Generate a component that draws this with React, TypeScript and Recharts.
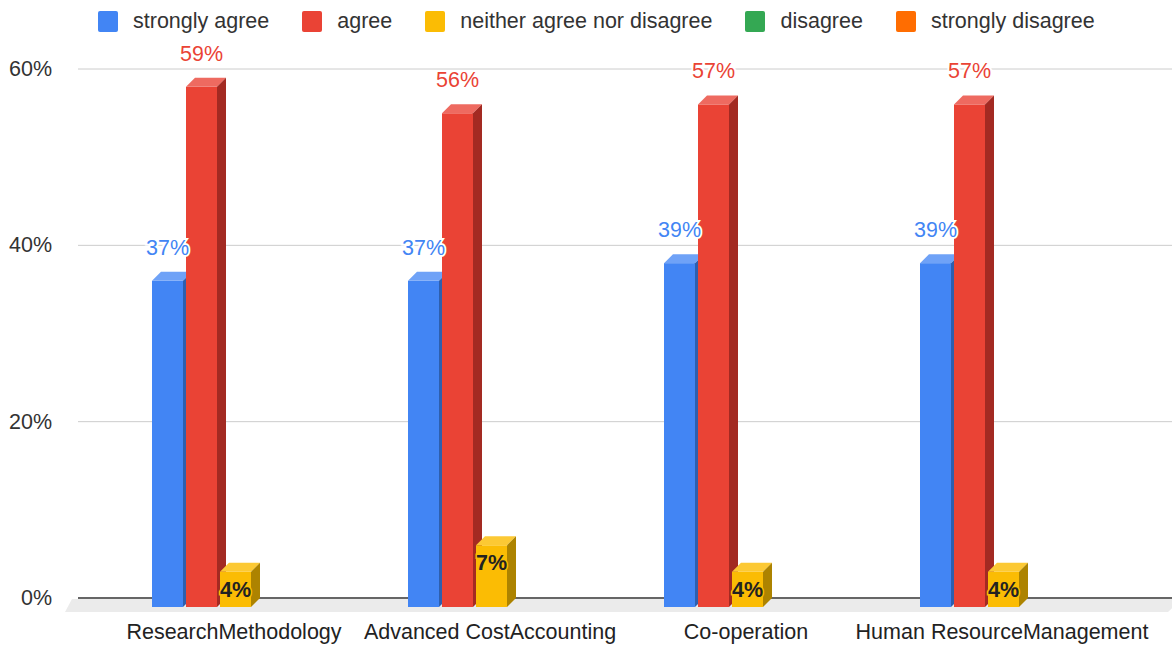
import React from 'react';
import { BarChart, Bar, XAxis, YAxis, CartesianGrid, LabelList } from 'recharts';

const categories = ['ResearchMethodology', 'Advanced CostAccounting', 'Co-operation', 'Human ResourceManagement'];
const stronglyAgree = [37, 37, 39, 39];
const agree = [59, 56, 57, 57];
const neitherAgree = [4, 7, 4, 4];
const disagree = [0, 0, 0, 0];
const stronglyDisagree = [0, 0, 0, 0];
const yTicks = [0, 20, 40, 60];

const series = [
    { key: 'sa', name: 'strongly agree', values: stronglyAgree },
    { key: 'a', name: 'agree', values: agree },
    { key: 'n', name: 'neither agree nor disagree', values: neitherAgree },
    { key: 'd', name: 'disagree', values: disagree },
    { key: 'sd', name: 'strongly disagree', values: stronglyDisagree },
];

// front / top / side shades per series
const colors: Record<string, { front: string; top: string; side: string }> = {
    sa: { front: '#4285f4', top: '#6fa2f7', side: '#2e5fae' },
    a: { front: '#ea4335', top: '#ee6a60', side: '#a32a22' },
    n: { front: '#fbbc04', top: '#fcc934', side: '#ad8300' },
    d: { front: '#34a853', top: '#5cba77', side: '#24763a' },
    sd: { front: '#ff6d01', top: '#ff8a34', side: '#b34c00' },
};

const data = categories.map((name, i) => {
    const row: any = { name };
    series.forEach(s => { row[s.key] = s.values[i]; });
    return row;
});

const DEPTH = 9;
const FONT = 'Arial, "Liberation Sans", sans-serif';
const FS = 21.5;

function Box3D(props: any) {
    const { x, y, width, height, seriesKey } = props;
    if (!height || height <= 0) return <g />;
    const c = colors[seriesKey];
    const fx = x - DEPTH;
    const fy = y + DEPTH;
    return (
        <g>
            <rect x={fx} y={fy} width={width} height={height} fill={c.front} />
            <polygon
                points={`${fx},${fy} ${fx + width},${fy} ${x + width},${y} ${x},${y}`}
                fill={c.top}
            />
            <polygon
                points={`${fx + width},${fy} ${x + width},${y} ${x + width},${y + height} ${fx + width},${fy + height}`}
                fill={c.side}
            />
        </g>
    );
}

function TopLabel(props: any) {
    const { x, y, width, height, value, color } = props;
    if (!value || height <= 0) return null;
    return (
        <text
            x={x - DEPTH + width / 2}
            y={y + DEPTH - 33}
            textAnchor="middle"
            dominantBaseline="central"
            fontSize={FS}
            fontFamily={FONT}
            fill={color}
            stroke="#fff"
            strokeWidth={4}
            paintOrder="stroke"
        >
            {value}%
        </text>
    );
}

function InsideLabel(props: any) {
    const { x, y, width, height, value } = props;
    if (!value || height <= 0) return null;
    return (
        <text
            x={x - DEPTH + width / 2}
            y={y + DEPTH + 18}
            textAnchor="middle"
            dominantBaseline="central"
            fontSize={FS}
            fontWeight="bold"
            fontFamily={FONT}
            fill="#222"
            stroke="#fbbc04"
            strokeWidth={3}
            paintOrder="stroke"
        >
            {value}%
        </text>
    );
}

function GridLine(props: any) {
    const { x1, x2, y1, y, height } = props;
    const isBase = Math.abs(y1 - (y + height)) < 1;
    if (!isBase) {
        return <line x1={x1} x2={x2} y1={y1} y2={y1} stroke="#cccccc" strokeWidth={1} />;
    }
    return (
        <g>
            <polygon
                points={`${x1 - 6},${y1 + 1} ${x2 + 10},${y1 + 1} ${x2 - 4},${y1 + 14} ${x1 - 13},${y1 + 14}`}
                fill="#ebebeb"
            />
            <line x1={x1} x2={x2} y1={y1} y2={y1} stroke="#333" strokeWidth={1.5} />
        </g>
    );
}

function CategoryTick(props: any) {
    const { x, y, payload } = props;
    return (
        <text x={x - 10} y={y} textAnchor="middle" dominantBaseline="central" fontSize={FS} fontFamily={FONT} fill="#222">
            {payload.value}
        </text>
    );
}

function ValueTick(props: any) {
    const { x, y, payload } = props;
    return (
        <text x={x} y={y} textAnchor="end" dominantBaseline="central" fontSize={FS} fontFamily={FONT} fill="#333">
            {payload.value}%
        </text>
    );
}

export default function App() {
    return (
        <div style={{ position: 'fixed', left: 0, top: 0, width: 1172, height: 646, background: '#fff', fontFamily: FONT }}>
            <div style={{ position: 'absolute', left: 98, top: 11, display: 'flex', alignItems: 'center', height: 21 }}>
                {series.map(s => (
                    <div key={s.key} style={{ display: 'flex', alignItems: 'center', marginRight: 33 }}>
                        <div style={{ width: 20, height: 21, borderRadius: 2, background: colors[s.key].front, marginRight: 15 }} />
                        <span style={{ fontSize: FS, color: '#333', lineHeight: '21px', whiteSpace: 'nowrap' }}>{s.name}</span>
                    </div>
                ))}
            </div>
            <BarChart
                width={1172}
                height={646}
                data={data}
                margin={{ top: 69, right: 0, bottom: 8, left: 0 }}
                barSize={31}
                barGap={3}
            >
                <CartesianGrid vertical={false} horizontal={(p: any) => <GridLine key={p.key} {...p} />} />
                <XAxis
                    dataKey="name"
                    axisLine={false}
                    tickLine={false}
                    tickSize={0}
                    tickMargin={34}
                    height={40}
                    padding={{ left: 38, right: 32 }}
                    tick={<CategoryTick />}
                    interval={0}
                />
                <YAxis
                    domain={[0, 60]}
                    ticks={yTicks}
                    axisLine={false}
                    tickLine={false}
                    tickSize={0}
                    tickMargin={26}
                    width={78}
                    tick={<ValueTick />}
                />
                {series.map(s => (
                    <Bar
                        key={s.key}
                        dataKey={s.key}
                        name={s.name}
                        fill={colors[s.key].front}
                        isAnimationActive={false}
                        shape={(p: any) => <Box3D {...p} seriesKey={s.key} />}
                    >
                        {s.key === 'n' ? (
                            <LabelList dataKey={s.key} content={(p: any) => <InsideLabel {...p} />} />
                        ) : (
                            <LabelList dataKey={s.key} content={(p: any) => <TopLabel {...p} color={colors[s.key].front} />} />
                        )}
                    </Bar>
                ))}
            </BarChart>
        </div>
    );
}
